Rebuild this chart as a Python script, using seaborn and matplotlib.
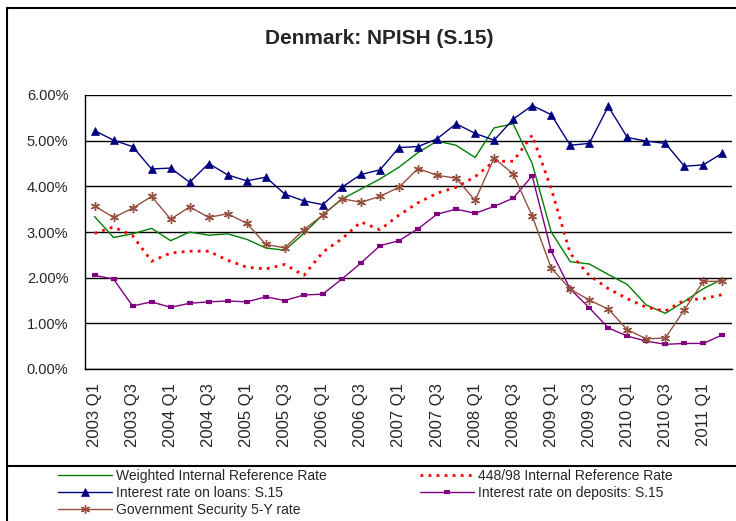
import matplotlib
matplotlib.use("Agg")
import matplotlib.pyplot as plt
from matplotlib.lines import Line2D
from matplotlib.ticker import FixedLocator, FuncFormatter
import seaborn as sns
import numpy as np

quarters = ["2003 Q1", "2003 Q2", "2003 Q3", "2003 Q4", "2004 Q1", "2004 Q2", "2004 Q3", "2004 Q4",
            "2005 Q1", "2005 Q2", "2005 Q3", "2005 Q4", "2006 Q1", "2006 Q2", "2006 Q3", "2006 Q4",
            "2007 Q1", "2007 Q2", "2007 Q3", "2007 Q4", "2008 Q1", "2008 Q2", "2008 Q3", "2008 Q4",
            "2009 Q1", "2009 Q2", "2009 Q3", "2009 Q4", "2010 Q1", "2010 Q2", "2010 Q3", "2010 Q4",
            "2011 Q1", "2011 Q2"]

# valores em %
weighted = [3.34, 2.88, 2.96, 3.08, 2.81, 3.00, 2.93, 2.96, 2.84, 2.65, 2.60, 2.97, 3.38, 3.72, 3.94, 4.16, 4.42,
            4.74, 4.99, 4.90, 4.63, 5.28, 5.37, 4.50, 3.00, 2.35, 2.30, 2.07, 1.85, 1.40, 1.22, 1.48, 1.76, 1.97]
ref_448_98 = [2.97, 3.11, 2.92, 2.36, 2.54, 2.58, 2.58, 2.38, 2.23, 2.19, 2.29, 2.05, 2.56, 2.85, 3.22, 3.05, 3.37,
              3.64, 3.85, 3.98, 4.21, 4.55, 4.55, 5.12, 3.95, 2.53, 2.05, 1.76, 1.54, 1.35, 1.27, 1.51, 1.54, 1.63]
loans = [5.22, 5.01, 4.87, 4.38, 4.40, 4.09, 4.50, 4.25, 4.12, 4.20, 3.83, 3.68, 3.60, 3.98, 4.26, 4.36, 4.85,
         4.87, 5.04, 5.37, 5.16, 5.01, 5.47, 5.77, 5.57, 4.90, 4.94, 5.75, 5.07, 4.99, 4.94, 4.44, 4.47, 4.73]
deposits = [2.05, 1.97, 1.38, 1.47, 1.35, 1.44, 1.47, 1.49, 1.47, 1.58, 1.50, 1.62, 1.64, 1.97, 2.32, 2.70, 2.81,
            3.07, 3.39, 3.50, 3.41, 3.56, 3.74, 4.23, 2.58, 1.75, 1.34, 0.90, 0.72, 0.61, 0.54, 0.56, 0.56, 0.75]
gov_5y = [3.57, 3.32, 3.52, 3.78, 3.28, 3.55, 3.32, 3.40, 3.19, 2.73, 2.65, 3.05, 3.37, 3.73, 3.65, 3.78, 3.98,
          4.39, 4.24, 4.18, 3.69, 4.62, 4.27, 3.35, 2.21, 1.75, 1.51, 1.31, 0.86, 0.66, 0.68, 1.30, 1.92, 1.92]

sns.set_style("white")
plt.rcParams['font.family'] = ['Liberation Sans', 'DejaVu Sans']

W, H = 736, 521
fig = plt.figure(figsize=(W / 100, H / 100), dpi=100)
ax = fig.add_axes([85 / W, 1 - 369 / H, (732 - 85) / W, (369 - 95) / H])

x = np.arange(len(quarters))

sns.lineplot(x=x, y=weighted, ax=ax, color="#008000", linewidth=1.0, label="Weighted Internal Reference Rate")
sns.lineplot(x=x, y=ref_448_98, ax=ax, color="#FF0000", linewidth=2.0, linestyle=(0, (1, 1.9)),
             label="448/98 Internal Reference Rate")
sns.lineplot(x=x, y=loans, ax=ax, color="#000080", linewidth=1.0, marker="^", markersize=6,
             markeredgewidth=0.5, markeredgecolor="#000080", label="Interest rate on loans: S.15")
sns.lineplot(x=x, y=deposits, ax=ax, color="#800080", linewidth=1.0, marker="_", markersize=5,
             markeredgewidth=3, markeredgecolor="#800080", label="Interest rate on deposits: S.15")
sns.lineplot(x=x, y=gov_5y, ax=ax, color="#955040", linewidth=1.0, marker=(6, 2, 0), markersize=6.5,
             markeredgewidth=1.0, markeredgecolor="#955040", label="Government Security 5-Y rate")

ax.set_xlim(-0.5, len(quarters) - 0.5)
ax.set_ylim(0, 6)
ax.yaxis.set_major_locator(FixedLocator(np.arange(0, 7)))
ax.yaxis.set_major_formatter(FuncFormatter(lambda v, p: f"{v:.2f}%"))
ax.grid(axis="y", color="black", linewidth=1.0)
ax.grid(axis="x", visible=False)

ax.set_xticks(x[::2])
ax.set_xticklabels(quarters[::2], rotation=90)
ax.set_xticks(np.arange(-0.5, len(quarters)), minor=True)
ax.tick_params(axis="x", which="major", length=0, pad=10, labelsize=12)
ax.tick_params(axis="x", which="minor", length=4, width=1, color="black", direction="out")
ax.tick_params(axis="y", length=4, width=1, color="black", direction="out", pad=8, labelsize=10.5)
ax.set_xlabel("")
ax.set_ylabel("")

for s in ["top", "right"]:
    ax.spines[s].set_visible(False)
for s in ["left", "bottom"]:
    ax.spines[s].set_color("black")
    ax.spines[s].set_linewidth(1.0)

fig.text(379 / W, 1 - 38 / H, "Denmark: NPISH (S.15)", ha="center", va="center",
         fontsize=15, fontweight="bold")

# legenda em duas colunas, linha a linha como no original
h, l = ax.get_legend_handles_labels()
ax.get_legend().remove()
leg_kw = dict(loc="upper left", frameon=False, fontsize=10, handlelength=3.9, handletextpad=0.25,
              labelspacing=0.22, borderpad=0, borderaxespad=0, numpoints=1)
fig.legend([h[0], h[2], h[4]], [l[0], l[2], l[4]], bbox_to_anchor=(58 / W, 1 - 469 / H), **leg_kw)
fig.legend([h[1], h[3]], [l[1], l[3]], bbox_to_anchor=(420 / W, 1 - 469 / H), **leg_kw)

# moldura do gráfico
fig.add_artist(Line2D([7 / W, 1], [1 - 8 / H, 1 - 8 / H], color="black", linewidth=1.5))
fig.add_artist(Line2D([7 / W, 7 / W], [0, 1 - 8 / H], color="black", linewidth=1.5))
fig.add_artist(Line2D([7 / W, 1], [1 - 466 / H, 1 - 466 / H], color="black", linewidth=1.5))

fig.savefig("out.png", dpi=100)
